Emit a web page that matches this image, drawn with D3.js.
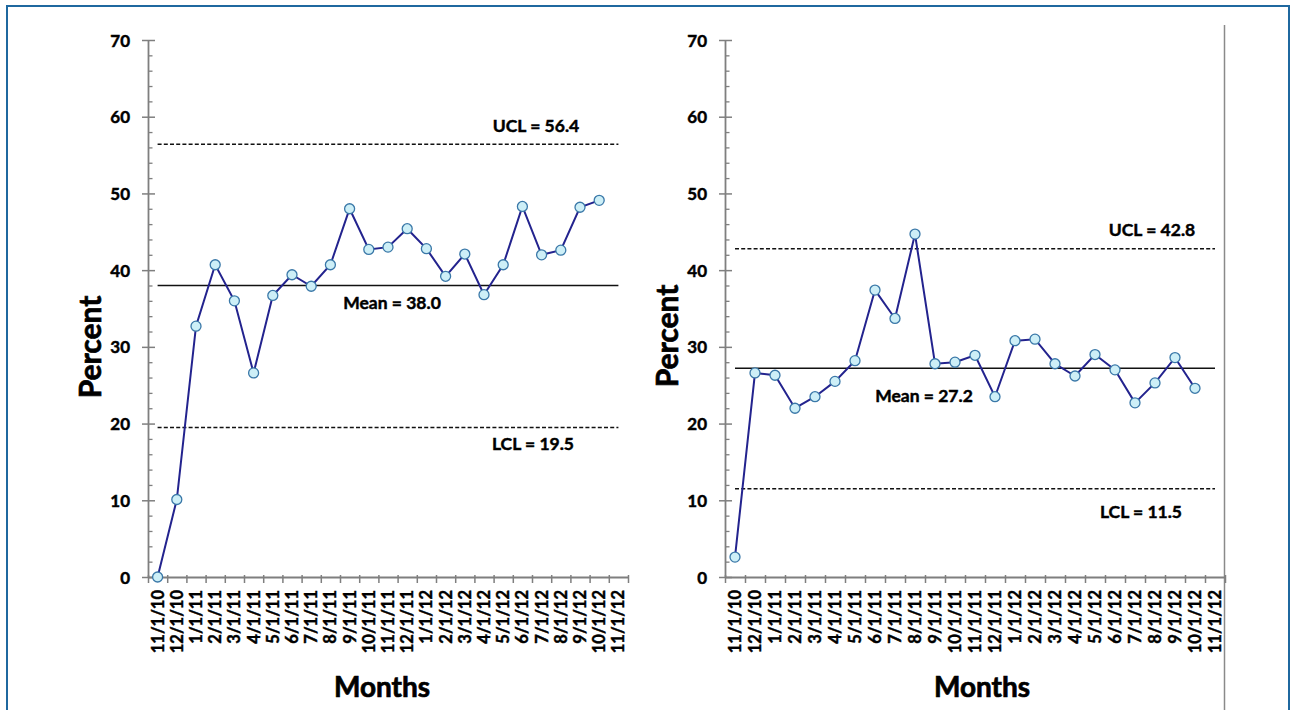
<!DOCTYPE html>
<html>
<head>
<meta charset="utf-8">
<script src="https://cdn.jsdelivr.net/npm/d3@7/dist/d3.min.js"></script>
<style>
  html, body { margin: 0; padding: 0; background: #fff; }
  svg { display: block; }
  text { font-family: Lato, "Open Sans", sans-serif; font-weight: bold; fill: #000; stroke: #000; stroke-width: 0.45px; }
</style>
</head>
<body>
<svg id="chart" width="1290" height="710"></svg>
<script>
// ---- data ----
const months = ["11/1/10","12/1/10","1/1/11","2/1/11","3/1/11","4/1/11","5/1/11","6/1/11",
  "7/1/11","8/1/11","9/1/11","10/1/11","11/1/11","12/1/11","1/1/12","2/1/12","3/1/12",
  "4/1/12","5/1/12","6/1/12","7/1/12","8/1/12","9/1/12","10/1/12","11/1/12"];
const leftValues = [0.0, 10.1, 32.7, 40.7, 36.0, 26.6, 36.7, 39.4, 37.9, 40.7, 48.0, 42.7,
  43.0, 45.4, 42.8, 39.2, 42.1, 36.8, 40.7, 48.3, 42.0, 42.6, 48.2, 49.1];
const rightValues = [2.6, 26.6, 26.3, 22.0, 23.5, 25.5, 28.2, 37.4, 33.7, 44.7, 27.8, 28.0,
  28.9, 23.5, 30.8, 31.0, 27.8, 26.2, 29.0, 27.0, 22.7, 25.3, 28.6, 24.6];
const leftLimits = [56.4, 38.0, 19.5];   // UCL, Mean, LCL
const rightLimits = [42.8, 27.2, 11.5];  // UCL, Mean, LCL
const yTicks = [0, 10, 20, 30, 40, 50, 60, 70];
const yMinorTicks = d3.range(0, 71, 2);
const xTitle = "Months";
const yTitle = "Percent";

// ---- layout ----
const svg = d3.select("#chart");
svg.append("rect").attr("x", 7).attr("y", 6).attr("width", 1282).attr("height", 740)
  .attr("fill", "#fff").attr("stroke", "#1f689f").attr("stroke-width", 2);
svg.append("line").attr("x1", 1224.5).attr("x2", 1224.5).attr("y1", 25).attr("y2", 710)
  .attr("stroke", "#8a8a8a").attr("stroke-width", 1.5);

const panels = [
  { values: leftValues, limits: leftLimits, x0: 148, x1: 628,
    ylab: { x: 101, y: 347 }, xlab: { x: 382, y: 697 },
    ann: [{ dx: 536, dy: -12, t: "UCL = " }, { dx: 392, dy: 24, t: "Mean = " }, { dx: 533, dy: 22.5, t: "LCL = " }] },
  { values: rightValues, limits: rightLimits, x0: 725, x1: 1225,
    ylab: { x: 678, y: 336 }, xlab: { x: 982, y: 697 },
    ann: [{ dx: 1152, dy: -13, t: "UCL = " }, { dx: 924, dy: 34, t: "Mean = " }, { dx: 1141, dy: 29, t: "LCL = " }] }
];

const yTop = 40, yBot = 577;

panels.forEach(p => {
  const g = svg.append("g");
  const x = d3.scaleBand().domain(months).range([p.x0, p.x1]);
  const xLin = d3.scaleLinear().domain([0, months.length]).range([p.x0, p.x1]);
  const y = d3.scaleLinear().domain([0, 70]).range([yBot, yTop]);

  // y axis minor ticks
  const yMinor = g.append("g").attr("transform", `translate(${p.x0},0)`)
    .call(d3.axisRight(y).tickValues(yMinorTicks.filter(v => v % 10 !== 0)).tickSize(4.5).tickFormat(""));
  yMinor.select(".domain").remove();
  yMinor.selectAll("line").attr("stroke", "#7f7f7f").attr("stroke-width", 1.3);

  // y axis major
  const yAx = g.append("g").attr("transform", `translate(${p.x0},0)`)
    .call(d3.axisLeft(y).tickValues(yTicks).tickSizeInner(6).tickSizeOuter(0).tickPadding(12));
  yAx.select(".domain").attr("stroke", "#7f7f7f").attr("stroke-width", 1.8);
  yAx.selectAll(".tick line").attr("x1", 7).attr("x2", -6).attr("stroke", "#7f7f7f").attr("stroke-width", 1.5);
  yAx.selectAll(".tick text").style("font-size", "17px").attr("font-family", null).attr("dy", "0.36em").attr("x", -18);

  // x axis ticks between categories
  const xTickAx = g.append("g").attr("transform", `translate(0,${yBot})`)
    .call(d3.axisBottom(xLin).tickValues(d3.range(0, months.length + 1)).tickSizeInner(6).tickSizeOuter(0).tickFormat(""));
  xTickAx.select(".domain").attr("stroke", "#7f7f7f").attr("stroke-width", 1.8);
  xTickAx.selectAll(".tick line").attr("y1", -2).attr("y2", 6).attr("stroke", "#7f7f7f").attr("stroke-width", 1.5);

  // x axis labels
  const xAx = g.append("g").attr("transform", `translate(0,${yBot})`)
    .call(d3.axisBottom(x).tickSize(0).tickSizeOuter(0));
  xAx.select(".domain").remove();
  xAx.selectAll(".tick text")
    .style("font-size", "16.5px").attr("font-family", null)
    .attr("text-anchor", "end")
    .attr("transform", "translate(0,13) rotate(-90)")
    .attr("x", 0).attr("y", 0).attr("dy", "0.36em");

  // control lines
  const cx0 = x(months[0]) + x.bandwidth() / 2;
  const cx1 = x(months[months.length - 1]) + x.bandwidth() / 2;
  p.limits.forEach((v, i) => {
    g.append("line").attr("x1", cx0).attr("x2", cx1).attr("y1", y(v)).attr("y2", y(v))
      .attr("stroke", "#111").attr("stroke-width", i === 1 ? 1.5 : 1.5)
      .attr("stroke-dasharray", i === 1 ? null : "4,2.2");
    const a = p.ann[i];
    g.append("text").attr("x", a.dx).attr("y", y(v) + a.dy).attr("text-anchor", "middle")
      .style("font-size", "17.5px").text(a.t + v.toFixed(1));
  });

  // series
  const line = d3.line().x((d, i) => x(months[i]) + x.bandwidth() / 2).y(d => y(d));
  g.append("path").datum(p.values).attr("d", line).attr("fill", "none")
    .attr("stroke", "#23238e").attr("stroke-width", 2);
  g.selectAll("circle.pt").data(p.values).join("circle").attr("class", "pt")
    .attr("cx", (d, i) => x(months[i]) + x.bandwidth() / 2).attr("cy", d => y(d)).attr("r", 5)
    .attr("fill", "#cdeff7").attr("stroke", "#3a78a8").attr("stroke-width", 1.3);

  // titles
  g.append("text").attr("transform", `translate(${p.ylab.x},${p.ylab.y}) rotate(-90)`)
    .attr("text-anchor", "middle").style("font-size", "30px").style("stroke-width", "0.7px").text(yTitle);
  g.append("text").attr("x", p.xlab.x).attr("y", p.xlab.y).attr("text-anchor", "middle")
    .style("font-size", "28px").style("stroke-width", "0.7px").text(xTitle);
});
</script>
</body>
</html>
